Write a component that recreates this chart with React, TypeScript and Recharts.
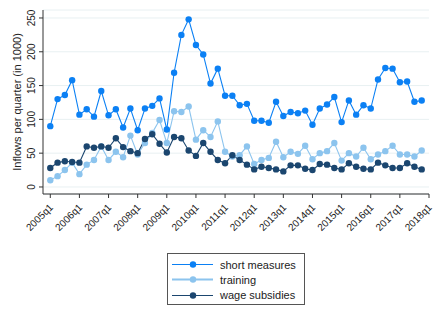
import React from "react";
import { LineChart, Line, XAxis, YAxis, CartesianGrid } from "recharts";

// quarters from 2005q1 (index 0) to 2017q4 (index 51)
const quarterIdx = Array.from({ length: 52 }, (_, i) => i);

// inflows per quarter, in 1000
const shortMeasures = [
  90, 130, 136, 158, 107, 115, 104, 142, 106, 115, 88, 116, 84,
  116, 120, 131, 85, 169, 225, 248, 210, 196, 153, 175, 135, 135,
  121, 123, 98, 98, 95, 126, 105, 111, 109, 113, 92, 116, 122,
  133, 96, 128, 107, 121, 116, 159, 176, 175, 155, 156, 126, 128,
];
const training = [
  10, 16, 25, 36, 19, 33, 40, 60, 40, 52, 44, 76, 48,
  65, 80, 99, 65, 112, 111, 119, 70, 84, 74, 97, 52, 45,
  47, 60, 34, 40, 43, 67, 44, 52, 49, 61, 41, 50, 53,
  65, 39, 50, 45, 58, 41, 48, 53, 61, 48, 48, 45, 54,
];
const wageSubsidies = [
  28, 36, 38, 37, 36, 60, 58, 60, 58, 72, 59, 53, 50,
  71, 78, 64, 51, 74, 72, 54, 46, 65, 52, 40, 35, 47,
  40, 33, 26, 30, 28, 26, 23, 32, 32, 27, 25, 34, 33,
  28, 26, 35, 30, 27, 26, 36, 32, 28, 28, 35, 30, 26,
];

const xTicks = [0, 4, 8, 12, 16, 20, 24, 28, 32, 36, 40, 44, 48, 52];
const yTicks = [0, 50, 100, 150, 200, 250];

const series = [
  { key: "short", name: "short measures", color: "#0b80f4", values: shortMeasures },
  { key: "training", name: "training", color: "#8cc4ee", values: training },
  { key: "wage", name: "wage subsidies", color: "#1b466f", values: wageSubsidies },
];

const data = quarterIdx.map((i) => ({
  i,
  short: shortMeasures[i],
  training: training[i],
  wage: wageSubsidies[i],
}));

const font = "'Liberation Sans', Arial, sans-serif";
const quarterLabel = (i: number) => `${2005 + Math.floor(i / 4)}q${(i % 4) + 1}`;

function XTick(props: any) {
  const { x, y, payload } = props;
  return (
    <g transform={`translate(${x},${y})`}>
      <text
        x={3.5}
        y={8}
        textAnchor="end"
        transform="rotate(-45 3.5 8)"
        fontSize={10}
        fontFamily={font}
        fill="#222"
      >
        {quarterLabel(payload.value)}
      </text>
    </g>
  );
}

function YTick(props: any) {
  const { y, payload } = props;
  return (
    <text
      x={35}
      y={y}
      textAnchor="middle"
      transform={`rotate(-90 35 ${y})`}
      fontSize={10}
      fontFamily={font}
      fill="#222"
    >
      {payload.value}
    </text>
  );
}

function LegendBox() {
  return (
    <div
      style={{
        position: "absolute",
        left: 167,
        top: 253,
        width: 136,
        height: 50,
        border: "1px solid #555",
        background: "#fff",
        fontFamily: font,
        fontSize: 11,
        color: "#222",
      }}
    >
      {series.map((s, k) => (
        <div
          key={s.key}
          style={{ position: "absolute", left: 0, top: 3 + k * 15.3, height: 15, display: "flex", alignItems: "center" }}
        >
          <svg width={48} height={15} style={{ display: "block" }}>
            <line x1={4} x2={45} y1={7.5} y2={7.5} stroke={s.color} strokeWidth={s.key === "training" ? 2 : 1.2} />
            <circle cx={25} cy={7.5} r={3.2} fill={s.color} />
          </svg>
          <span style={{ marginLeft: 4 }}>{s.name}</span>
        </div>
      ))}
    </div>
  );
}

export default function App() {
  return (
    <div style={{ position: "absolute", left: 0, top: 0, width: 440, height: 320, background: "#fff" }}>
      <LineChart width={440} height={320} data={data} margin={{ top: 10, right: 11, bottom: 0, left: 0 }}>
        <CartesianGrid horizontal vertical={false} stroke="#e8f0f2" strokeWidth={1} />
        <XAxis
          dataKey="i"
          type="number"
          domain={[-1, 52]}
          ticks={xTicks}
          interval={0}
          height={126}
          tickSize={4}
          tickMargin={2}
          stroke="#333"
          tick={<XTick />}
          allowDecimals={false}
        />
        <YAxis
          type="number"
          domain={[-10.4, 261.8]}
          ticks={yTicks}
          interval={0}
          width={43}
          tickSize={4}
          stroke="#333"
          tick={<YTick />}
          label={{
            value: "Inflows per quarter (in 1000)",
            angle: -90,
            position: "center",
            dx: -4,
            style: { fontSize: 11, fontFamily: font, fill: "#222" },
          }}
        />
        {series.map((s) => (
          <Line
            key={s.key}
            dataKey={s.key}
            name={s.name}
            stroke={s.color}
            strokeWidth={1.1}
            type="linear"
            dot={{ r: 3.2, fill: s.color, stroke: s.color, strokeWidth: 0 }}
            activeDot={false}
            isAnimationActive={false}
          />
        ))}
      </LineChart>
      <LegendBox />
    </div>
  );
}
